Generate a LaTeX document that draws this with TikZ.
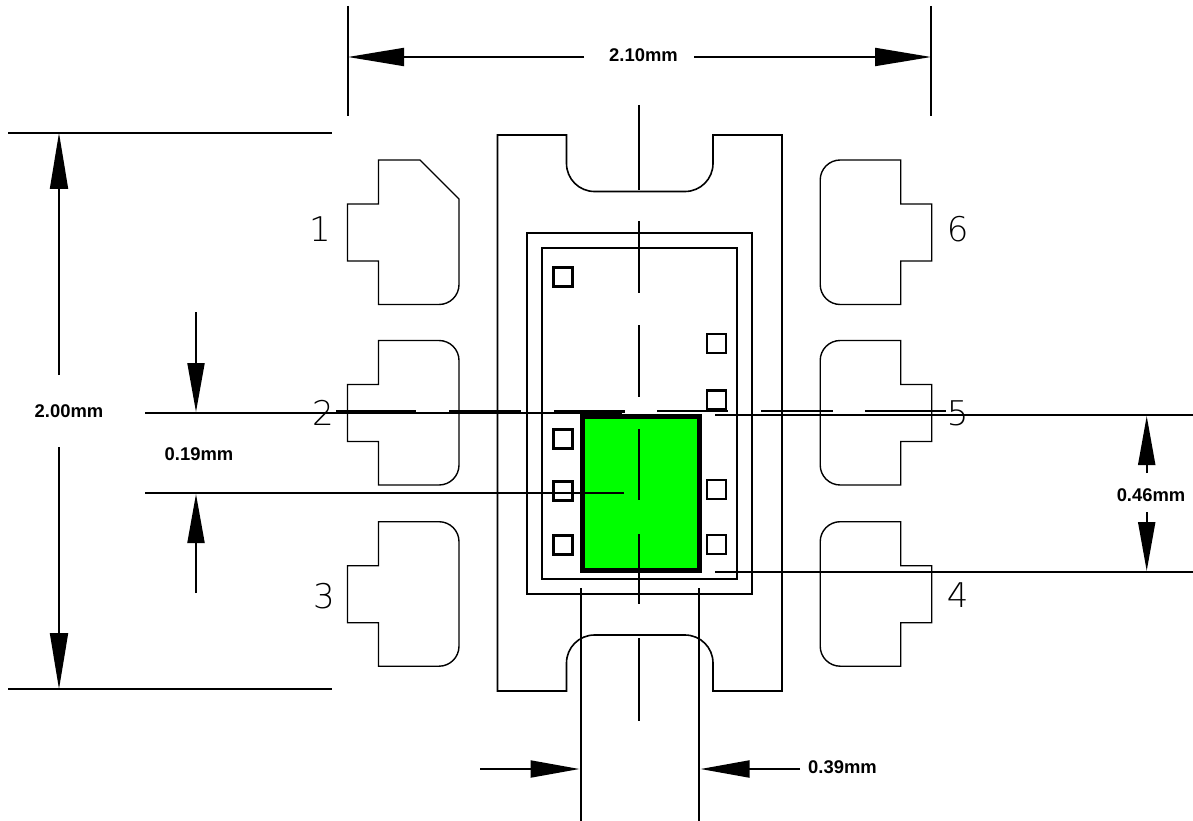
\documentclass[tikz,border=0pt]{standalone}
\usepackage{fontspec}
\setmainfont{Liberation Sans}
\newfontfamily\pinfont{DejaVu Sans ExtraLight}
\usetikzlibrary{arrows.meta}
\definecolor{diegreen}{RGB}{0,255,0}
\tikzset{
    padline/.style={line width=1.4pt},
    boxline/.style={line width=2pt},
    dimline/.style={line width=2pt},
    longtip/.style={dimline,-{Triangle[length=56pt,width=18pt]}},
    shorttip/.style={dimline,-{Triangle[length=49pt,width=17pt]}},
    dimlabel/.style={inner sep=0pt,font=\fontsize{18.4}{20}\selectfont\bfseries},
    pinlabel/.style={inner sep=0pt,font=\fontsize{34}{36}\selectfont\pinfont}
}
\begin{document}
\begin{tikzpicture}[x=1pt,y=-1pt]
    \useasboundingbox (0,0) rectangle (1193,821);
    % pads
    \draw[padline] (378.5,160) -- (420,160) -- (459,199)
        [rounded corners=20pt] -- (459,304.5) [sharp corners] -- (378.5,304.5)
        -- (378.5,261) -- (347.5,261) -- (347.5,204) -- (378.5,204) -- cycle;
    \foreach \s/\t in {1/340.5,1/521.7,-1/160,-1/340.5,-1/521.7} {
        \begin{scope}[shift={(639.6,\t)},xscale=\s]
            \draw[padline] (-261.1,0) [rounded corners=20pt] -- (-180.6,0) -- (-180.6,144.5)
                [sharp corners] -- (-261.1,144.5) -- (-261.1,101) -- (-292.1,101)
                -- (-292.1,44) -- (-261.1,44) -- cycle;
        \end{scope}
    }
    % body
    \draw[line width=1.6pt] (497.5,135) -- (566.5,135) [rounded corners=28pt] -- (566.5,191.5)
        -- (713,191.5) [sharp corners] -- (713,135) -- (782,135) -- (782,691) -- (713,691)
        [rounded corners=28pt] -- (713,635) -- (566.5,635) [sharp corners]
        -- (566.5,691) -- (497.5,691) -- cycle;
    \draw[boxline] (527,233) rectangle (752,593.7);
    \draw[boxline] (541.7,247.7) rectangle (736.7,579);
    % die
    \filldraw[fill=diegreen,line width=4.7pt] (582.5,416.5) rectangle (699.7,570.2);
    % bond pads
    \foreach \sy in {277,439,491,544.5}
        \draw[line width=3pt] (553,\sy-9.5) rectangle (572,\sy+9.5);
    \foreach \sy in {343.5,400,489.5,544.5}
        \draw[line width=2.4pt] (707.2,\sy-9.5) rectangle (726.2,\sy+9.5);
    % center lines
    \foreach \a/\b in {105/190,221/293,325/397,429/500,534/604,638/720.5}
        \draw[boxline] (639,\a) -- (639,\b);
    \foreach \a/\b in {336/416,449/521,554/625}
        \draw[line width=3pt] (\a,411.5) -- (\b,411.5);
    \foreach \a/\b in {657/728,761/833,865/945.5}
        \draw[boxline] (\a,411) -- (\b,411);
    % extension lines
    \foreach \a/\b/\c/\d in {348/6/348/116,931/6/931/116,8/133/332/133,8/689/332/689,
        145/413/622/413,145/493/624/493,715/414.7/1193/414.7,715/572/1193/572,
        581/588/581/821,699/588/699/821}
        \draw[dimline] (\a,\b) -- (\c,\d);
    % width
    \coordinate (wl) at (348,57);
    \coordinate (wr) at (931,57);
    \node[dimlabel] (wlabel) at (643.5,55) {2.10mm};
    \draw[longtip] ([xshift=-59.5pt]wlabel.center |- wl) -- (wl);
    \draw[longtip] ([xshift=50.5pt]wlabel.center |- wr) -- (wr);
    % height
    \coordinate (ht) at (59,133);
    \coordinate (hb) at (59,689);
    \node[dimlabel] (hlabel) at (69,411) {2.00mm};
    \coordinate (hu) at (59,375);
    \coordinate (hd) at (59,447);
    \draw[longtip] (hu) -- (ht);
    \draw[longtip] (hd) -- (hb);
    % 0.19
    \coordinate (pt) at (196,412);
    \coordinate (pb) at (196,494);
    \node[dimlabel] (plabel) at (199,454) {0.19mm};
    \coordinate (pu) at (196,312);
    \coordinate (pd) at (196,593);
    \draw[shorttip] (pu) -- (pt);
    \draw[shorttip] (pd) -- (pb);
    % 0.46
    \coordinate (qt) at (1146.7,416);
    \coordinate (qb) at (1146.7,571);
    \node[dimlabel] (qlabel) at (1151,495) {0.46mm};
    \coordinate (qu) at (1146.7,473);
    \coordinate (qd) at (1146.7,512);
    \draw[shorttip] (qu) -- (qt);
    \draw[shorttip] (qd) -- (qb);
    % 0.39
    \coordinate (rl) at (579.5,769);
    \coordinate (rr) at (700.5,769);
    \node[dimlabel] (rlabel) at (842.5,767) {0.39mm};
    \coordinate (ru) at (480,769);
    \coordinate (rd) at (800,769);
    \draw[shorttip] (ru) -- (rl);
    \draw[shorttip] (rd) -- (rr);
    % pin numbers
    \node[pinlabel] (pin1) at (320,229) {1};
    \node[pinlabel] (pin2) at (323,413) {2};
    \node[pinlabel] (pin3) at (324,596) {3};
    \node[pinlabel] (pin4) at (957.7,595) {4};
    \node[pinlabel] (pin5) at (957.7,413) {5};
    \node[pinlabel] (pin6) at (957.7,229) {6};
\end{tikzpicture}
\end{document}
